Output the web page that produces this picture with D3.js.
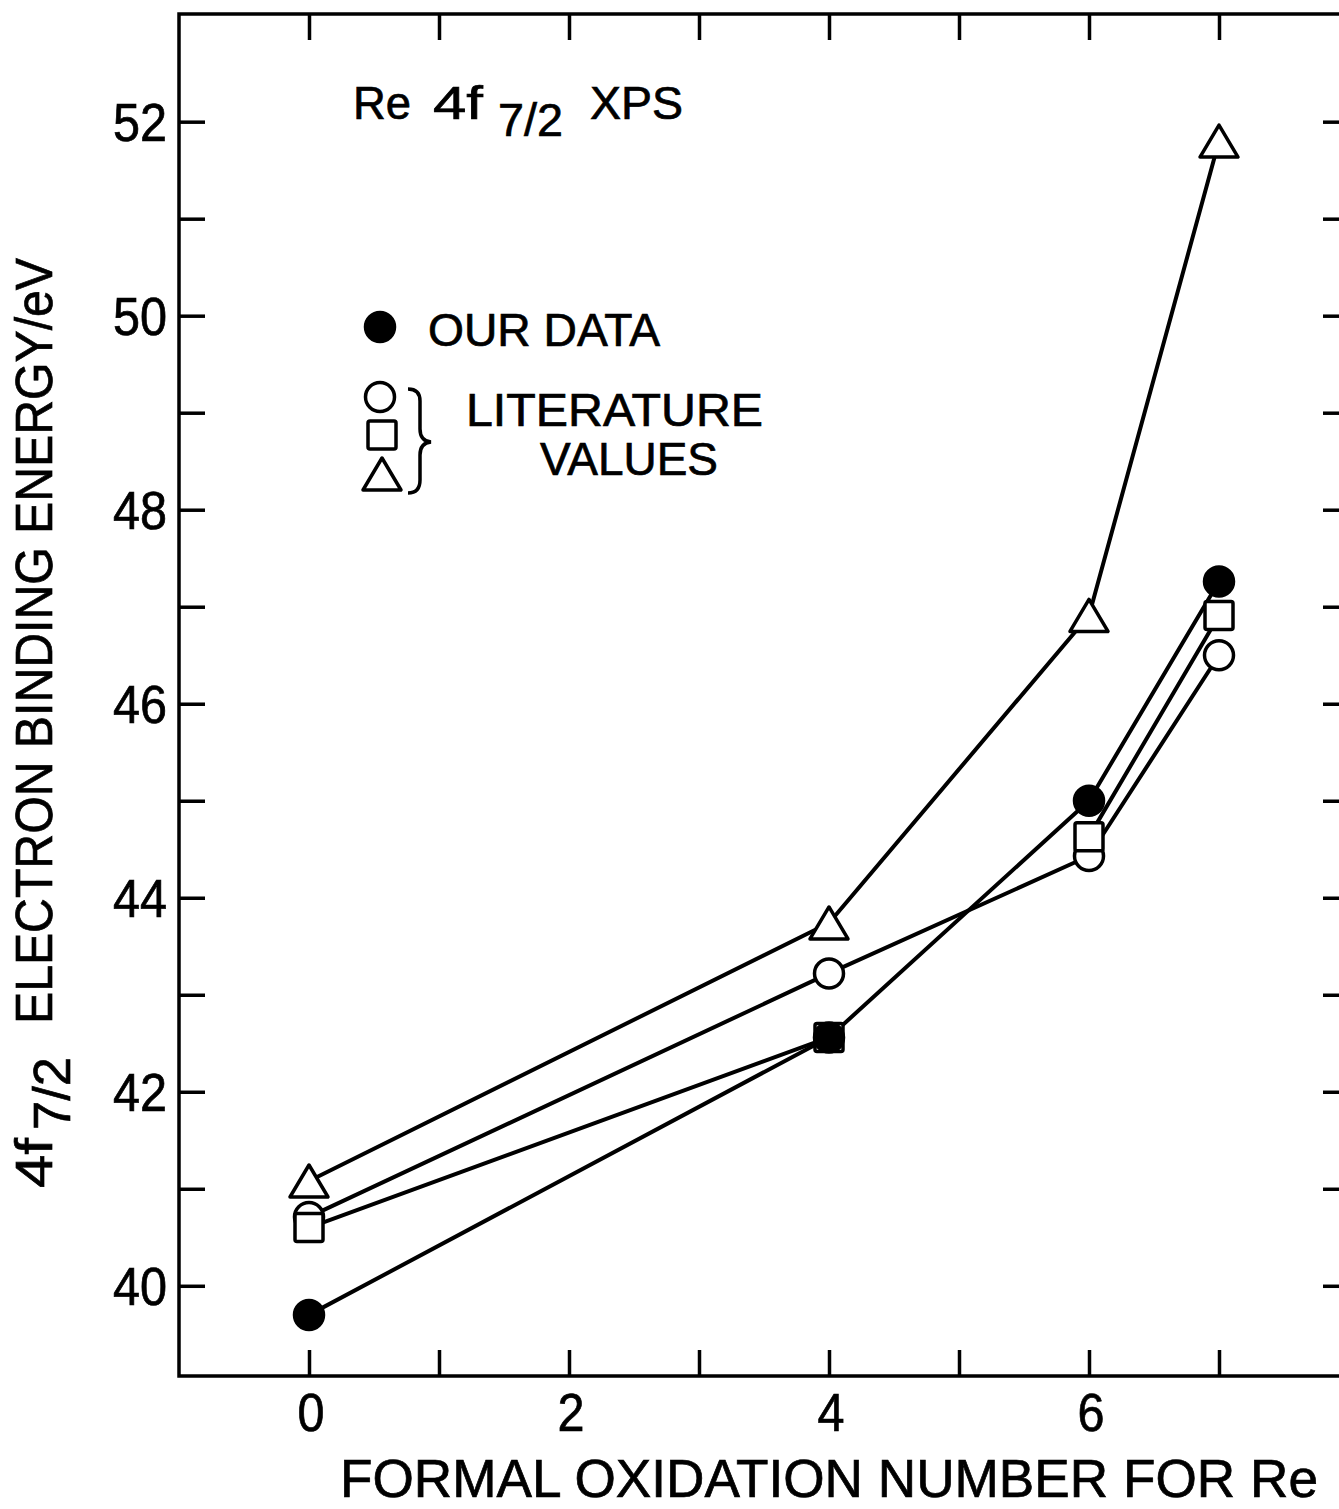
<!DOCTYPE html>
<html><head><meta charset="utf-8">
<script src="https://cdn.jsdelivr.net/npm/d3@7"></script>
<style>
html,body{margin:0;padding:0;background:#fff;}
text{font-family:"Liberation Sans",Arial,sans-serif;fill:#000;stroke:#000;stroke-width:0.7px;}
</style></head>
<body>
<svg id="chart" width="1339" height="1509"></svg>
<script>
// ---- data ----
const oxidation = [0, 4, 6, 7];
const ourData     = [39.70, 42.56, 45.00, 47.26];
const litCircle   = [40.71, 43.22, 44.43, 46.50];
const litSquare   = [40.60, 42.56, 44.63, 46.91];
const litTriangle = [41.08, 43.74, 46.91, 51.80];
// index pairs connected by a line for each series
const linksFull   = [[0,1],[1,2],[2,3]];
const linksSquare = [[0,1],[2,3]];
const xTickValues = [0,1,2,3,4,5,6,7];
const xTickLabels = [0,2,4,6];
const yTickValues = [40,41,42,43,44,45,46,47,48,49,50,51,52];
const yTickLabels = [40,42,44,46,48,50,52];
const xDomain = [-1, 8];
const yDomain = [39.07, 53.11];

const svg = d3.select("#chart");
const L = 179, R = 1349, T = 14, B = 1376;
const x = d3.scaleLinear().domain(xDomain).range([L, R]);
const y = d3.scaleLinear().domain(yDomain).range([B, T]);

// frame
svg.append("rect").attr("x", L).attr("y", T).attr("width", R - L).attr("height", B - T)
  .attr("fill", "none").attr("stroke", "#000").attr("stroke-width", 3.5);

const tk = 26;
function styleAxis(g){ g.select(".domain").remove(); g.selectAll(".tick line").attr("stroke","#000").attr("stroke-width",3.5); }
svg.append("g").attr("transform",`translate(0,${B})`)
  .call(d3.axisBottom(x).tickValues(xTickValues).tickSize(-tk).tickFormat("")).call(styleAxis);
svg.append("g").attr("transform",`translate(0,${T})`)
  .call(d3.axisTop(x).tickValues(xTickValues).tickSize(-tk).tickFormat("")).call(styleAxis);
svg.append("g").attr("transform",`translate(${L},0)`)
  .call(d3.axisLeft(y).tickValues(yTickValues).tickSize(-tk).tickFormat("")).call(styleAxis);
svg.append("g").attr("transform",`translate(${R},0)`)
  .call(d3.axisRight(y).tickValues(yTickValues).tickSize(-tk).tickFormat("")).call(styleAxis);

// tick labels
svg.append("g").selectAll("text").data(yTickLabels).join("text")
  .attr("x", 167).attr("y", d => y(d) + 19)
  .attr("text-anchor","end").attr("font-size", 53)
  .attr("textLength", 54).attr("lengthAdjust","spacingAndGlyphs").text(d => d);
svg.append("g").selectAll("text").data(xTickLabels).join("text")
  .attr("x", d => x(d) + 2).attr("y", 1431)
  .attr("text-anchor","middle").attr("font-size", 53)
  .attr("textLength", 27).attr("lengthAdjust","spacingAndGlyphs").text(d => d);

// lines
function drawLinks(vals, links){
  svg.append("g").selectAll("line").data(links).join("line")
    .attr("x1", d => x(oxidation[d[0]])).attr("y1", d => y(vals[d[0]]))
    .attr("x2", d => x(oxidation[d[1]])).attr("y2", d => y(vals[d[1]]))
    .attr("stroke","#000").attr("stroke-width",4).attr("stroke-linecap","round");
}
drawLinks(litTriangle, linksFull);
drawLinks(litCircle, linksFull);
drawLinks(litSquare, linksSquare);
drawLinks(ourData, linksFull);

// markers
function circleMarker(g, cx, cy, filled){
  g.append("circle").attr("cx",cx).attr("cy",cy).attr("r",14.5)
   .attr("fill", filled ? "#000" : "#fff").attr("stroke","#000").attr("stroke-width",3.5);
}
function squareMarker(g, cx, cy){
  g.append("rect").attr("x",cx-14).attr("y",cy-14).attr("width",28).attr("height",28).attr("rx",2)
   .attr("fill","#fff").attr("stroke","#000").attr("stroke-width",3.5);
}
function triangleMarker(g, cx, cy){
  g.append("path").attr("d",`M${cx},${cy-16}L${cx+19},${cy+16}L${cx-19},${cy+16}Z`)
   .attr("fill","#fff").attr("stroke","#000").attr("stroke-width",3.5).attr("stroke-linejoin","round");
}
const mg = svg.append("g");
oxidation.forEach((o,i) => triangleMarker(mg, x(o), y(litTriangle[i])));
oxidation.forEach((o,i) => circleMarker(mg, x(o), y(litCircle[i]), false));
oxidation.forEach((o,i) => squareMarker(mg, x(o), y(litSquare[i])));
oxidation.forEach((o,i) => circleMarker(mg, x(o), y(ourData[i]), true));

function txt(s, x0, y0, fs, len, adj){
  const t = svg.append("text").attr("x",x0).attr("y",y0).attr("font-size",fs).text(s);
  if (len) t.attr("textLength",len).attr("lengthAdjust",adj || "spacingAndGlyphs");
  return t;
}
// title
txt("Re", 353, 119, 46, 58);
txt("4f", 433, 119, 46, 50);
txt("7/2", 498, 136, 46, 65);
txt("XPS", 590, 119, 46, 93);

// legend
const lg = svg.append("g");
circleMarker(lg, 380, 327, true);
circleMarker(lg, 380, 397, false);
squareMarker(lg, 382, 435);
triangleMarker(lg, 382, 474);
lg.append("path")
  .attr("d","M408,389 Q420,389 420,401 L420,429 Q420,441 431,442 Q420,443 420,455 L420,480 Q420,493 408,493")
  .attr("fill","none").attr("stroke","#000").attr("stroke-width",3.5);
txt("OUR DATA", 428, 346, 46, 232);
txt("LITERATURE", 466, 426, 46, 297);
txt("VALUES", 540, 475, 46, 178);

// axis titles
txt("FORMAL OXIDATION NUMBER FOR Re", 340, 1497, 54, 978);
const yl = svg.append("g").attr("transform","translate(52,0) rotate(-90)");
yl.append("text").attr("x",-1188).attr("y",0).attr("font-size",52).attr("textLength",50).attr("lengthAdjust","spacingAndGlyphs").text("4f");
yl.append("text").attr("x",-1130).attr("y",18).attr("font-size",52).attr("textLength",73).attr("lengthAdjust","spacingAndGlyphs").text("7/2");
yl.append("text").attr("x",-1024).attr("y",0).attr("font-size",52).attr("textLength",766).attr("lengthAdjust","spacingAndGlyphs").text("ELECTRON BINDING ENERGY/eV");
</script>
</body></html>
